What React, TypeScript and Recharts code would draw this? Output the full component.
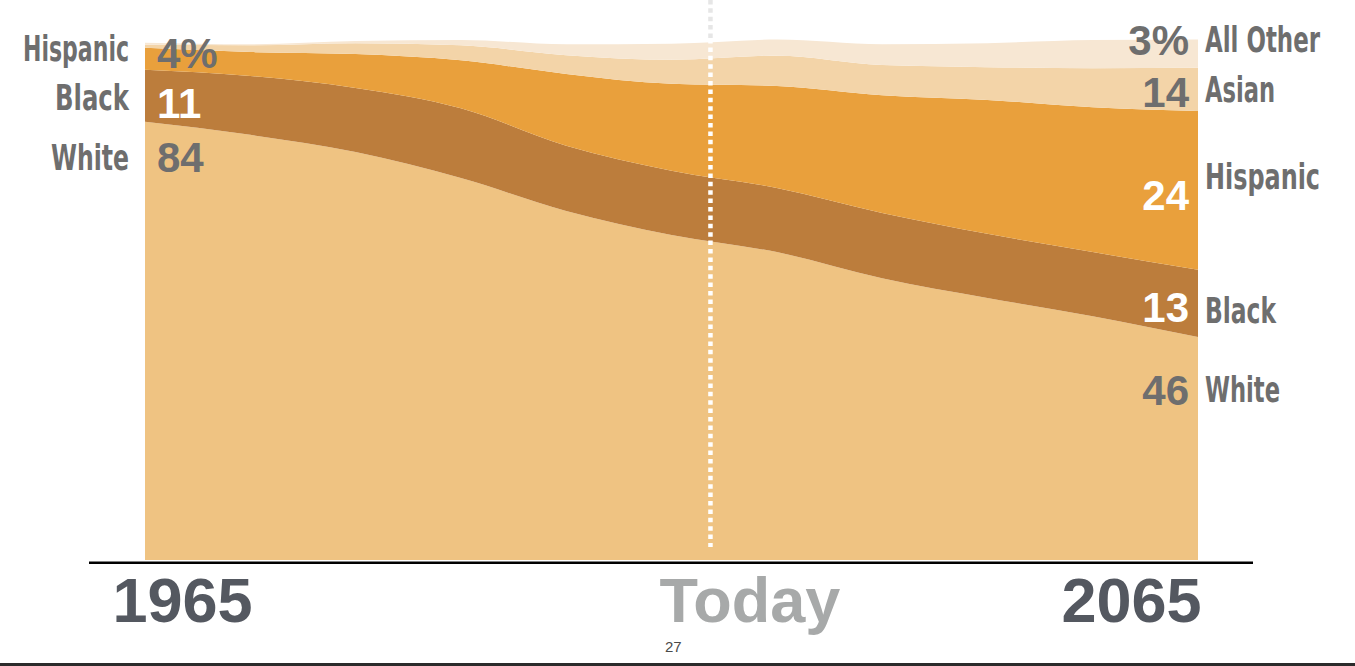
import React from 'react';
import { AreaChart, Area, XAxis, YAxis, ReferenceLine } from 'recharts';

const years = [1965, 1975, 1985, 1995, 2005, 2015, 2025, 2035, 2045, 2055, 2065];
const white = [84.1, 81.6, 78.3, 73.3, 67.0, 62.4, 59.1, 54.1, 50.3, 46.8, 42.8];
const black = [10.0, 11.3, 12.3, 13.4, 12.5, 12.3, 12.3, 12.5, 12.3, 12.3, 12.9];
const hispanic = [4.2, 4.6, 6.5, 9.2, 13.8, 16.7, 19.6, 22.6, 25.7, 27.8, 30.5];
const asian = [0.6, 1.3, 2.1, 2.9, 3.6, 4.6, 5.8, 5.8, 6.3, 7.5, 8.3];
const allOther = [0.4, 0.2, 0.4, 1.0, 2.1, 3.1, 3.1, 4.0, 4.6, 5.4, 5.4];

const todayYear = 2018.7;

const leftNames = ['Hispanic', 'Black', 'White'];
const leftValues = ['4%', '11', '84'];
const rightNames = ['All Other', 'Asian', 'Hispanic', 'Black', 'White'];
const rightValues = ['3%', '14', '24', '13', '46'];
const xLabels = ['1965', 'Today', '2065'];
const pageNumber = '27';

const data = years.map((year, i) => ({
  year,
  white: white[i],
  black: black[i],
  hispanic: hispanic[i],
  asian: asian[i],
  allOther: allOther[i],
}));

const COLORS = {
  white: '#EFC382',
  black: '#BC7D3C',
  hispanic: '#E9A03C',
  asian: '#F3D4A8',
  allOther: '#F7E7D3',
};

const NARROW = '"Liberation Sans Narrow", "DejaVu Sans Condensed", "Liberation Sans", sans-serif';
const SANS = '"Liberation Sans", Arial, sans-serif';
const GREY = '#6e6e6e';

// layout for the text overlay
const leftNameLayout = [
  { y: 61, len: 106 },
  { y: 110, len: 74 },
  { y: 170, len: 78 },
];
const leftValueLayout = [
  { y: 68, color: GREY },
  { y: 118, color: '#ffffff' },
  { y: 172, color: GREY },
];
const rightNameLayout = [
  { y: 52, len: 115 },
  { y: 102, len: 70 },
  { y: 189, len: 115 },
  { y: 323, len: 71 },
  { y: 402, len: 75 },
];
const rightValueLayout = [
  { y: 55, color: GREY },
  { y: 107, color: GREY },
  { y: 210, color: '#ffffff' },
  { y: 322, color: '#ffffff' },
  { y: 405, color: GREY },
];
const xLabelLayout = [
  { x: 182.5, color: '#545860' },
  { x: 750, color: '#a7a9a9' },
  { x: 1131.5, color: '#545860' },
];

export default function App() {
  return (
    <div style={{ position: 'absolute', left: 0, top: 0, width: 1355, height: 666, background: '#fff' }}>
      <AreaChart
        width={1355}
        height={666}
        data={data}
        margin={{ top: 39, right: 157, bottom: 106, left: 145 }}
      >
        <XAxis dataKey="year" type="number" domain={[1965, 2065]} hide />
        <YAxis type="number" domain={[0, 100]} hide />
        <Area type="monotone" dataKey="white" stackId="a" stroke="none" fill={COLORS.white} fillOpacity={1} isAnimationActive={false} />
        <Area type="monotone" dataKey="black" stackId="a" stroke="none" fill={COLORS.black} fillOpacity={1} isAnimationActive={false} />
        <Area type="monotone" dataKey="hispanic" stackId="a" stroke="none" fill={COLORS.hispanic} fillOpacity={1} isAnimationActive={false} />
        <Area type="monotone" dataKey="asian" stackId="a" stroke="none" fill={COLORS.asian} fillOpacity={1} isAnimationActive={false} />
        <Area type="monotone" dataKey="allOther" stackId="a" stroke="none" fill={COLORS.allOther} fillOpacity={1} isAnimationActive={false} />
        <ReferenceLine
          segment={[{ x: todayYear, y: 107.5 }, { x: todayYear, y: 100 }]}
          stroke="#e6e6e6"
          strokeWidth={4.5}
          strokeDasharray="4.5 3.9"
          ifOverflow="visible"
        />
        <ReferenceLine
          segment={[{ x: todayYear, y: 100 }, { x: todayYear, y: 2.5 }]}
          stroke="#ffffff"
          strokeWidth={4.5}
          strokeDasharray="4.5 3.9"
          ifOverflow="visible"
        />
      </AreaChart>
      <svg
        width={1355}
        height={666}
        style={{ position: 'absolute', left: 0, top: 0, pointerEvents: 'none' }}
      >
        <rect x={89} y={561.5} width={1164} height={2.5} fill="#000" />
        <rect x={0} y={663} width={1355} height={3} fill="#2b2b2b" />
        {leftNames.map((t, i) => (
          <text
            key={'ln' + i}
            x={129}
            y={leftNameLayout[i].y}
            textAnchor="end"
            fontFamily={NARROW}
            fontWeight={700}
            fontSize={35}
            fill={GREY}
            textLength={leftNameLayout[i].len}
            lengthAdjust="spacingAndGlyphs"
          >
            {t}
          </text>
        ))}
        {leftValues.map((t, i) => (
          <text
            key={'lv' + i}
            x={157}
            y={leftValueLayout[i].y}
            textAnchor="start"
            fontFamily={SANS}
            fontWeight={700}
            fontSize={42}
            fill={leftValueLayout[i].color}
          >
            {t}
          </text>
        ))}
        {rightNames.map((t, i) => (
          <text
            key={'rn' + i}
            x={1205}
            y={rightNameLayout[i].y}
            textAnchor="start"
            fontFamily={NARROW}
            fontWeight={700}
            fontSize={35}
            fill={GREY}
            textLength={rightNameLayout[i].len}
            lengthAdjust="spacingAndGlyphs"
          >
            {t}
          </text>
        ))}
        {rightValues.map((t, i) => (
          <text
            key={'rv' + i}
            x={1189}
            y={rightValueLayout[i].y}
            textAnchor="end"
            fontFamily={SANS}
            fontWeight={700}
            fontSize={42}
            fill={rightValueLayout[i].color}
          >
            {t}
          </text>
        ))}
        {xLabels.map((t, i) => (
          <text
            key={'x' + i}
            x={xLabelLayout[i].x}
            y={622}
            textAnchor="middle"
            fontFamily={SANS}
            fontWeight={700}
            fontSize={63}
            fill={xLabelLayout[i].color}
          >
            {t}
          </text>
        ))}
        <text x={665} y={652} fontFamily={SANS} fontSize={15} fill="#4a4a4a">
          {pageNumber}
        </text>
      </svg>
    </div>
  );
}
